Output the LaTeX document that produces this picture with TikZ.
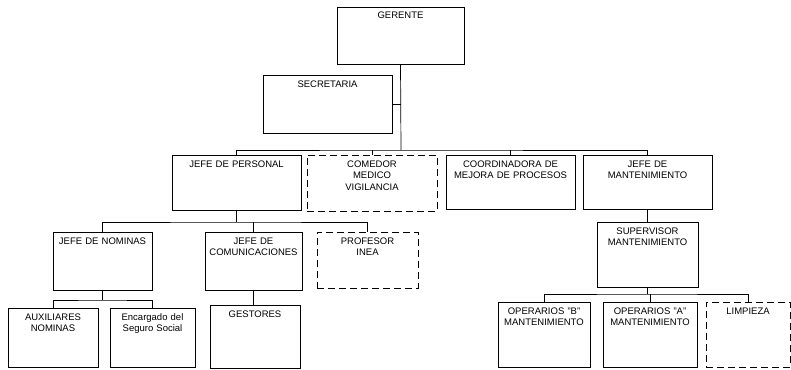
\documentclass[tikz,border=0pt]{standalone}
\usepackage{fontspec}
\setmainfont{Liberation Sans}

\begin{document}
\begin{tikzpicture}[x=1pt, y=-1pt,
          puesto/.style 2 args={rectangle, draw=black, line width=0.7pt,
            inner sep=2pt, align=center, font=\fontsize{9.5}{11.5}\selectfont,
            text height=10pt, text width=#1, text depth=#2},
          vacante/.style={dash pattern=on 7pt off 4pt},
          linea/.style={draw=black, line width=0.7pt}]

        \useasboundingbox (0,0) rectangle (791,369);

        % direccion
        \node[puesto={123pt}{43pt}] (gerente)    at (400.5,35.5) {GERENTE};
        \node[puesto={125pt}{44pt}] (secretaria) at (327.5,104)  {SECRETARIA};

        % jefaturas
        \node[puesto={125pt}{41pt}]         (personal)     at (236.5,182.5) {JEFE DE PERSONAL};
        \node[puesto={126pt}{42pt},vacante] (comedor)      at (372,183)     {COMEDOR\\MEDICO\\VIGILANCIA};
        \node[puesto={125pt}{40pt}]         (coordinadora) at (510.5,182)   {COORDINADORA DE\\MEJORA DE PROCESOS};
        \node[puesto={125pt}{40pt}]         (mantto)       at (647.5,182)   {JEFE DE\\MANTENIMIENTO};

        \coordinate (bus1) at (401,150);
        \draw[linea] (gerente.south) -- (bus1);
        \draw[linea] (secretaria.east) -- (secretaria.east -| bus1);
        \draw[linea] (personal.north) |- (bus1) -| (mantto.north);
        \draw[linea] (comedor.north)      -- (comedor.north |- bus1);
        \draw[linea] (coordinadora.north) -- (coordinadora.north |- bus1);

        % area de personal
        \node[puesto={95pt}{44pt}]         (nominas)        at (102.5,261) {JEFE DE NOMINAS};
        \node[puesto={93pt}{44pt}]         (comunicaciones) at (253.5,261) {JEFE DE\\COMUNICACIONES};
        \node[puesto={97pt}{42pt},vacante] (profesor)       at (367.5,260) {PROFESOR\\INEA};

        \coordinate (bus2) at (236.5,222);
        \draw[linea] (personal.south) -- (bus2);
        \draw[linea] (nominas.north) |- (bus2) -| (profesor.north);
        \draw[linea] (comunicaciones.north) -- (comunicaciones.north |- bus2);

        \node[puesto={86pt}{45pt}] (auxiliares) at (53,337.5)  {AUXILIARES\\NOMINAS};
        \node[puesto={81pt}{45pt}] (encargado)  at (152.5,337.5) {Encargado del\\Seguro Social};
        \node[puesto={86pt}{49pt}] (gestores)   at (255,336.5) {GESTORES};

        \coordinate (bus3) at (102.5,300);
        \draw[linea] (nominas.south) -- (bus3);
        \draw[linea] (auxiliares.north) |- (bus3) -| (encargado.north);
        \draw[linea] (comunicaciones.south) -- (comunicaciones.south |- gestores.north);

        % area de mantenimiento
        \node[puesto={97pt}{51pt}] (supervisor) at (647.5,254.5) {SUPERVISOR\\MANTENIMIENTO};
        \draw[linea] (mantto.south) -- (supervisor.north);

        \node[puesto={88pt}{51pt}]         (operariosb) at (544,334.5) {OPERARIOS "B"\\MANTENIMIENTO};
        \node[puesto={90pt}{51pt}]         (operariosa) at (650,334.5) {OPERARIOS "A"\\MANTENIMIENTO};
        \node[puesto={80pt}{51pt},vacante] (limpieza)   at (748,334.5) {LIMPIEZA};

        \coordinate (bus4) at (647.5,294);
        \draw[linea] (supervisor.south) -- (bus4);
        \draw[linea] (operariosb.north) |- (bus4) -| (limpieza.north);
        \draw[linea] (operariosa.north) -- (operariosa.north |- bus4);

      \end{tikzpicture}
\end{document}
